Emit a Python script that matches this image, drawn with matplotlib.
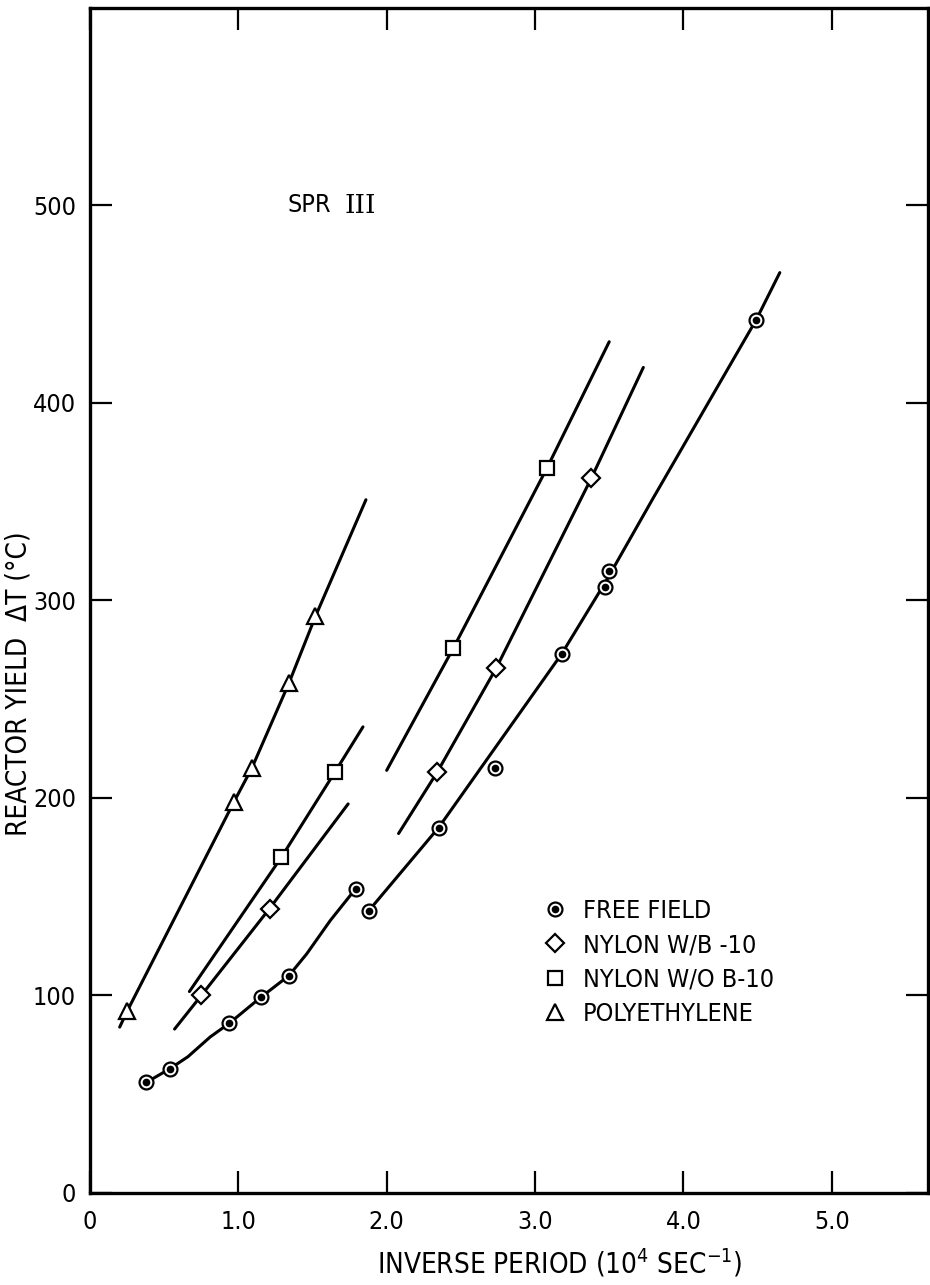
import numpy as np
import matplotlib
matplotlib.use('Agg')
import matplotlib.pyplot as plt

plt.rcParams['font.family'] = ['DejaVu Sans']
plt.rcParams['font.stretch'] = 'condensed'
plt.rcParams['mathtext.default'] = 'regular'

# measured points
ff_x = [0.38, 0.54, 0.94, 1.15, 1.34, 1.79, 1.88, 2.35, 2.73, 3.18, 3.47, 3.50, 4.49]
ff_y = [56, 63, 86, 99, 110, 154, 143, 185, 215, 273, 307, 315, 442]

b10_x = [0.75, 1.21, 2.34, 2.74, 3.38]
b10_y = [100, 144, 213, 266, 362]

nob_x = [1.29, 1.65, 2.45, 3.08]
nob_y = [170, 213, 276, 367]

poly_x = [0.25, 0.97, 1.09, 1.34, 1.52]
poly_y = [92, 198, 215, 258, 292]

# faired curves drawn through the data
ff_fit1_x = [0.38, 0.54, 0.66, 0.81, 0.94, 1.15, 1.34, 1.46, 1.62, 1.79]
ff_fit1_y = [56, 63, 69, 79, 86, 99, 110, 121, 138, 154]
ff_fit2_x = [1.88, 2.35, 3.18, 3.48, 3.79, 4.49, 4.65]
ff_fit2_y = [143, 185, 273, 310, 351, 442, 466]

b10_fit1_x = [0.57, 0.75, 1.21, 1.74]
b10_fit1_y = [83, 100, 144, 197]
b10_fit2_x = [2.08, 2.34, 2.74, 3.38, 3.73]
b10_fit2_y = [182, 213, 266, 362, 418]

nob_fit1_x = [0.67, 1.29, 1.65, 1.84]
nob_fit1_y = [102, 170, 213, 236]
nob_fit2_x = [2.00, 2.45, 3.08, 3.50]
nob_fit2_y = [214, 276, 367, 431]

poly_fit_x = [0.20, 0.25, 0.97, 1.09, 1.34, 1.52, 1.86]
poly_fit_y = [84, 92, 198, 215, 258, 292, 351]

x_ticks = [0, 1, 2, 3, 4, 5]
x_labels = ['0', '1.0', '2.0', '3.0', '4.0', '5.0']
y_ticks = [0, 100, 200, 300, 400, 500]

FS = 18
LW = 2.2

fig = plt.figure(figsize=(9.3, 12.85), dpi=100)
ax = fig.add_axes([0.0968, 0.0716, 0.9012, 0.9222])

for fx, fy in [(ff_fit1_x, ff_fit1_y), (ff_fit2_x, ff_fit2_y),
               (b10_fit1_x, b10_fit1_y), (b10_fit2_x, b10_fit2_y),
               (nob_fit1_x, nob_fit1_y), (nob_fit2_x, nob_fit2_y),
               (poly_fit_x, poly_fit_y)]:
    ax.plot(fx, fy, color='black', lw=LW, solid_capstyle='round', zorder=2)

ring, = ax.plot(ff_x, ff_y, 'o', ms=10, mfc='white', mec='black', mew=1.6, zorder=3)
dot, = ax.plot(ff_x, ff_y, 'o', ms=4.5, mfc='black', mec='black', zorder=4)
dia, = ax.plot(b10_x, b10_y, 'D', ms=9, mfc='white', mec='black', mew=1.6, zorder=3)
sq, = ax.plot(nob_x, nob_y, 's', ms=10, mfc='white', mec='black', mew=1.6, zorder=3)
tri, = ax.plot(poly_x, poly_y, '^', ms=12, mfc='white', mec='black', mew=1.6, zorder=3)

ax.legend([(ring, dot), dia, sq, tri],
          ['FREE FIELD', 'NYLON W/B -10', 'NYLON W/O B-10', 'POLYETHYLENE'],
          loc='upper left', bbox_to_anchor=(0.525, 0.259), frameon=False,
          fontsize=FS, borderpad=0, handlelength=1.0, handletextpad=0.6,
          labelspacing=0.42)

ax.text(1.33, 500, 'SPR', fontsize=FS, va='center', ha='left')
ax.annotate('III', xy=(1.33, 500), xytext=(41, 0), textcoords='offset points',
            fontsize=19, family='DejaVu Serif', fontstretch='normal',
            va='center', ha='left')

ax.set_xlim(0, 5.65)
ax.set_ylim(0, 600)
ax.set_xticks(x_ticks)
ax.set_xticklabels(x_labels)
ax.set_yticks(y_ticks)
ax.tick_params(direction='in', length=16, width=1.6, labelsize=FS,
               top=True, right=True, pad=10)
ax.tick_params(axis='x', pad=12)
for s in ax.spines.values():
    s.set_linewidth(2.4)

ax.set_xlabel('INVERSE PERIOD (10$^{4}$ SEC$^{-1}$)', fontsize=20)
ax.xaxis.set_label_coords(0.56, -0.045)
ax.set_ylabel('REACTOR YIELD  \u0394T (\u00b0C)', fontsize=20)
ax.yaxis.set_label_coords(-0.069, 0.43)

fig.savefig('out.png', dpi=100)
